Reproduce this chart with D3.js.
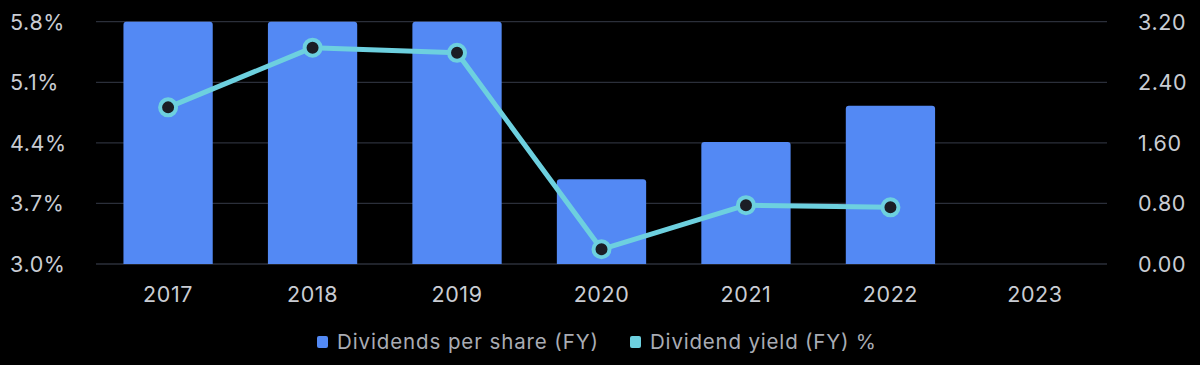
<!DOCTYPE html>
<html><head><meta charset="utf-8">
<script src="https://cdn.jsdelivr.net/npm/d3@7"></script>
<style>html,body{margin:0;padding:0;background:#000;}svg{display:block;}</style>
</head><body>
<svg id="chart" width="1200" height="365"></svg>
<script>
const years = ["2017","2018","2019","2020","2021","2022","2023"];
const dividendsPerShare = [3.20, 3.20, 3.20, 1.12, 1.61, 2.09, null];
const dividendYield = [4.81, 5.50, 5.44, 3.17, 3.68, 3.655, null];
const leftTicks = [3.0, 3.7, 4.4, 5.1, 5.8];
const rightTicks = [0, 0.8, 1.6, 2.4, 3.2];
const legendLabels = ["Dividends per share (FY)", "Dividend yield (FY) %"];

const svg = d3.select("#chart");
const W = 1200, H = 365;
svg.append("rect").attr("width", W).attr("height", H).attr("fill", "#000");
const plot = {left: 96, right: 1107, top: 21.7, bottom: 264};
const font = "Inter, 'Open Sans', sans-serif";
const textCol = "#c9ccd3";
const gridCol = "#2b2f3a";
const barCol = "#5389f4";
const lineCol = "#6dd0df";

const x = d3.scaleBand().domain(years).range([plot.left, 1107]).paddingInner(0.382).paddingOuter(0.19);
const yL = d3.scaleLinear().domain([3.0, 5.8]).range([plot.bottom, plot.top]);
const yR = d3.scaleLinear().domain([0, 3.2]).range([plot.bottom, plot.top]);

// grid
svg.append("g").selectAll("line").data(rightTicks).join("line")
  .attr("x1", plot.left).attr("x2", plot.right)
  .attr("y1", d => yR(d)).attr("y2", d => yR(d))
  .attr("stroke", gridCol).attr("stroke-width", 1.3);

const tickStyle = sel => sel.attr("fill", textCol).style("font-family", font)
  .style("font-size", "21.5px").style("letter-spacing", "0.6px");

// left axis
const axL = d3.axisLeft(yL).tickValues(leftTicks).tickSize(0).tickFormat(d => d3.format(".1f")(d) + "%");
const gL = svg.append("g").attr("transform", `translate(10,0)`).call(axL);
gL.select(".domain").remove();
gL.selectAll("text").attr("x", 0).attr("text-anchor", "start").attr("dy", "0.35em").call(tickStyle);

// right axis
const axR = d3.axisRight(yR).tickValues(rightTicks).tickSize(0).tickFormat(d3.format(".2f"));
const gR = svg.append("g").attr("transform", `translate(1138,0)`).call(axR);
gR.select(".domain").remove();
gR.selectAll("text").attr("x", 0).attr("dy", "0.35em").call(tickStyle);

// x axis
const axX = d3.axisBottom(x).tickSize(0);
const gX = svg.append("g").attr("transform", `translate(0,${plot.bottom})`).call(axX);
gX.select(".domain").remove();
gX.selectAll("text").attr("y", 23).attr("dy", "0.71em").call(tickStyle);

// bars with rounded top
const barData = years.map((y, i) => ({y, v: dividendsPerShare[i]})).filter(d => d.v != null);
const r = 3;
svg.append("g").selectAll("path").data(barData).join("path")
  .attr("fill", barCol)
  .attr("d", d => {
    const x0 = x(d.y), x1 = x0 + x.bandwidth(), y0 = yR(d.v), y1 = yR(0);
    return `M${x0},${y1}V${y0 + r}Q${x0},${y0} ${x0 + r},${y0}H${x1 - r}Q${x1},${y0} ${x1},${y0 + r}V${y1}Z`;
  });

// line
const lineData = years.map((y, i) => ({y, v: dividendYield[i]})).filter(d => d.v != null);
const line = d3.line().x(d => x(d.y) + x.bandwidth() / 2).y(d => yL(d.v));
svg.append("path").datum(lineData).attr("d", line)
  .attr("fill", "none").attr("stroke", lineCol).attr("stroke-width", 5)
  .attr("stroke-linejoin", "round");
svg.append("g").selectAll("circle").data(lineData).join("circle")
  .attr("cx", d => x(d.y) + x.bandwidth() / 2).attr("cy", d => yL(d.v))
  .attr("r", 8).attr("fill", "#1b1e25").attr("stroke", lineCol).attr("stroke-width", 4);

// legend
const legendCols = [barCol, lineCol];
const legendWidths = [261, 226];
const lg = svg.append("g");
const lx = [317, 630];
legendLabels.forEach((t, i) => {
  lg.append("rect").attr("x", lx[i]).attr("y", 336).attr("width", 11).attr("height", 12).attr("rx", 2)
    .attr("fill", legendCols[i]);
  lg.append("text").attr("x", lx[i] + 20).attr("y", 342).attr("dy", "0.35em")
    .attr("textLength", legendWidths[i]).attr("lengthAdjust", "spacing")
    .attr("fill", "#a9acb4").style("font-family", font).style("font-size", "20.5px").text(t);
});
</script>
</body></html>
